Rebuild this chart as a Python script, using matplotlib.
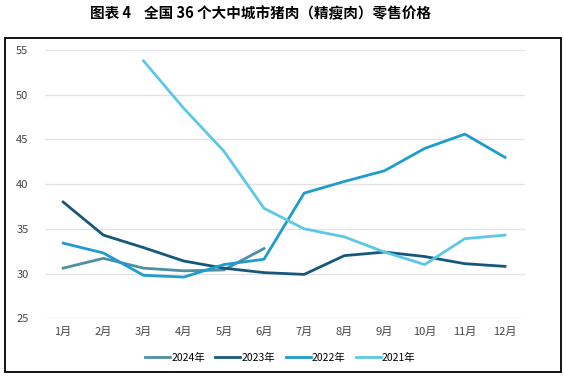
import matplotlib.pyplot as plt
from matplotlib.patches import Rectangle
import numpy as np

plt.rcParams['font.family'] = ['Noto Sans CJK SC', 'DejaVu Sans']

months = ["1月", "2月", "3月", "4月", "5月", "6月", "7月", "8月", "9月", "10月", "11月", "12月"]
p2024 = [30.6, 31.7, 30.6, 30.3, 30.4, 32.8]
p2023 = [38.0, 34.3, 32.9, 31.4, 30.6, 30.1, 29.9, 32.0, 32.4, 31.9, 31.1, 30.8]
p2022 = [33.4, 32.3, 29.8, 29.6, 31.0, 31.6, 39.0, 40.3, 41.5, 44.0, 45.6, 43.0]
p2021 = [None, None, 53.8, 48.5, 43.7, 37.3, 35.0, 34.1, 32.4, 31.0, 33.9, 34.3]

series = [
    ("2024年", p2024, "#4f8fa3"),
    ("2023年", p2023, "#17587a"),
    ("2022年", p2022, "#1e9ccd"),
    ("2021年", p2021, "#5cc8e6"),
]

fig = plt.figure(figsize=(5.64, 3.77), dpi=100)
ax = fig.add_axes([0.08, 0.156, 0.851, 0.711])

x = np.arange(len(months))
for name, vals, color in series:
    y = np.array([np.nan if v is None else v for v in vals], dtype=float)
    ax.plot(x[:len(y)], y, color=color, linewidth=2, label=name)

ax.set_xlim(-0.45, 11.5)
ax.set_ylim(25, 55)
ax.set_yticks(range(25, 56, 5))
ax.set_xticks(x)
ax.set_xticklabels(months)
ax.grid(axis="y", color="#e3e3e6", linewidth=1)
ax.set_axisbelow(True)
for s in ax.spines.values():
    s.set_visible(False)
ax.tick_params(length=0, labelsize=8, colors="#444444")
ax.tick_params(axis="y", pad=12)
ax.tick_params(axis="x", pad=6)

ax.legend(loc="upper center", bbox_to_anchor=(0.49, -0.095), ncol=4, frameon=False,
          fontsize=7.5, handlelength=2.4, handletextpad=0.1, columnspacing=1.0)

# outer frame and title
fig.patches.append(Rectangle((5 / 564, 0.013), 556 / 564, 0.886, transform=fig.transFigure,
                             fill=False, edgecolor="black", linewidth=1.3))
fig.text(0.461, 0.965, "图表 4    全国 36 个大中城市猪肉（精瘦肉）零售价格",
         ha="center", va="center", fontsize=10.5, fontweight="bold")

fig.savefig("out.png", dpi=100)
